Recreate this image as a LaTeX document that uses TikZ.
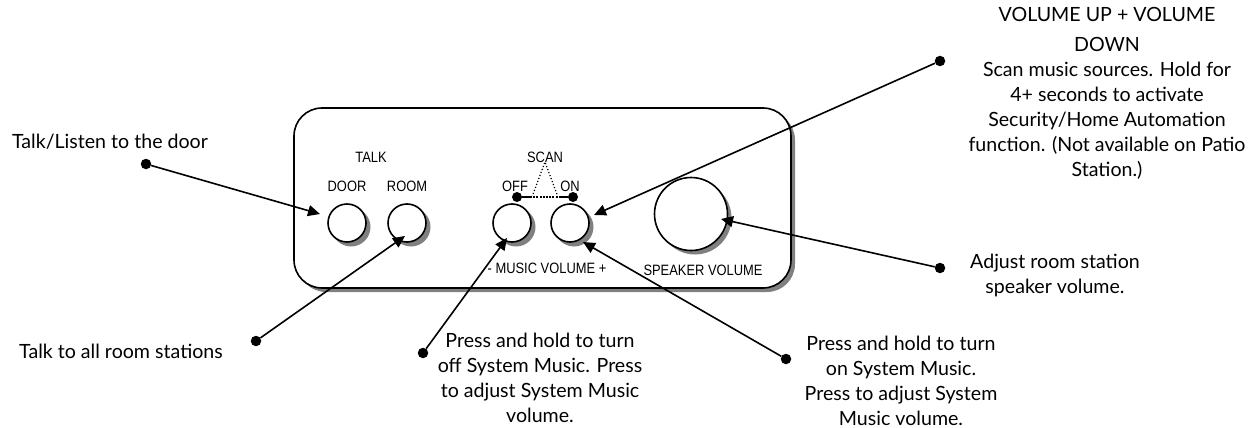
\documentclass[tikz,border=0pt]{standalone}
\usepackage{fontspec}
\setmainfont{Lato}
\newfontfamily\panelfont{Liberation Sans}
\usetikzlibrary{arrows.meta}
\colorlet{shadowgray}{black!50}
\tikzset{
  x=1pt,y=-1pt,
  btn/.style={circle,draw=black,line width=1.6pt,fill=white,inner sep=0pt},
  dot/.style={circle,fill=black,inner sep=0pt,minimum size=10pt},
  smalldot/.style={circle,fill=black,inner sep=0pt,minimum size=10.5pt},
  lab/.style={inner sep=0pt,font=\panelfont\fontsize{15}{17}\selectfont,xscale=0.86},
  note/.style={inner sep=0pt,align=center,font=\fontsize{19.6}{25}\selectfont},
  callout/.style={line width=1.6pt,-{Triangle[length=12pt,width=11pt]}},
}
\begin{document}
\begin{tikzpicture}
\useasboundingbox (0,0) rectangle (1260,428);
% panel
\fill[shadowgray,rounded corners=28pt] (298,112) rectangle (795,292);
\draw[line width=1.6pt,fill=white,rounded corners=28pt] (294,108) rectangle (791,288);
% button shadows
\fill[shadowgray] (351,227) circle (19.5);
\fill[shadowgray] (411,227) circle (19.5);
\fill[shadowgray] (516,227) circle (19.5);
\fill[shadowgray] (574,227) circle (19.5);
\fill[shadowgray] (695,218) circle (36.5);
% buttons
\node[btn,minimum size=38pt] (door) at (347,223) {};
\node[btn,minimum size=38pt] (room) at (407,223) {};
\node[btn,minimum size=38pt] (off) at (512,223) {};
\node[btn,minimum size=38pt] (on) at (570,223) {};
\node[btn,minimum size=73pt] (spk) at (691,214) {};
% panel labels
\node[lab] (talk) at (371,157) {TALK};
\node[lab] (doorl) at (347,186) {DOOR};
\node[lab] (rooml) at (407,186) {ROOM};
\node[lab] (scan) at (545,157) {SCAN};
\node[lab] (offl) at (515,186) {OFF};
\node[lab] (onl) at (570,186) {ON};
\node[lab] (mus) at (547,268) {- MUSIC VOLUME +};
\node[lab] (spkl) at (703,270) {SPEAKER VOLUME};
% scan bracket
\node[dot] (sa) at (517,197) {};
\node[dot] (sb) at (573,197) {};
\coordinate (apex) at (545,162);
\draw[line width=1.2pt] (sa) -- (sb);
\draw[line width=1.2pt,dotted] (532,197) -- (apex) -- (558,197);
\draw[line width=1.2pt,dotted,white] (532,197) -- (558,197);
% arrow tips
\coordinate (t1) at (320,214);
\coordinate (t2) at (405,236);
\coordinate (t3) at (507,238);
\coordinate (t4) at (583,242);
\coordinate (t5) at (594,215);
\coordinate (t6) at (721,219);
% free ends
\node[smalldot] (d1) at (146,164) {};
\node[smalldot] (d2) at (256,341) {};
\node[smalldot] (d3) at (423,353) {};
\node[smalldot] (d4) at (786,359) {};
\node[smalldot] (d5) at (940,61) {};
\node[smalldot] (d6) at (940,268) {};
\draw[callout] (d1) -- (t1);
\draw[callout] (d2) -- (t2);
\draw[callout] (d3) -- (t3);
\draw[callout] (d4) -- (t4);
\draw[callout] (d5) -- (t5);
\draw[callout] (d6) -- (t6);
% notes
\node[note] (n1) at (110,142) {Talk/Listen to the door};
\node[note] (n2) at (121,351) {Talk to all room stations};
\node[note] (n3) at (540,378) {Press and hold to turn\\off System Music. Press\\to adjust System Music\\volume.};
\node[note] (n4) at (901,381) {Press and hold to turn\\on System Music.\\Press to adjust System\\Music volume.};
\node[note] (n5) at (1055,275) {Adjust room station\\speaker volume.};
\node[note] (n6) at (1107,93) {VOLUME UP + VOLUME\\[5pt]DOWN\\Scan music sources. Hold for\\4+ seconds to activate\\Security/Home Automation\\function. (Not available on Patio\\Station.)};
\end{tikzpicture}
\end{document}
